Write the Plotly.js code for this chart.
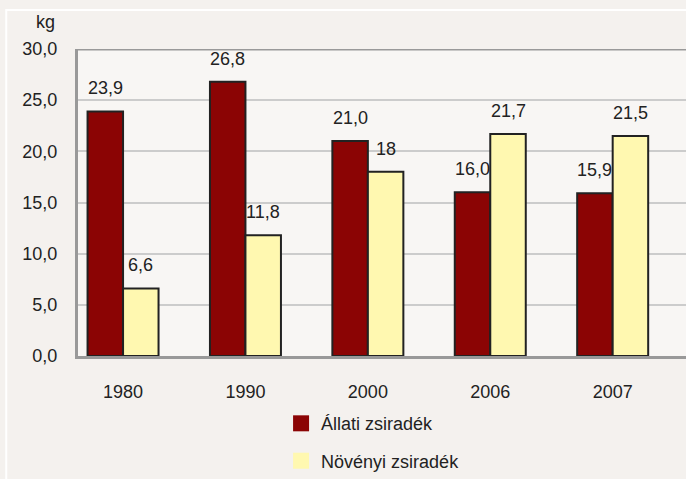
<!DOCTYPE html>
<html>
<head>
<meta charset="utf-8">
<script src="https://cdn.plot.ly/plotly-3.0.1.min.js"></script>
<style>html,body{margin:0;padding:0;background:#f4f1ee;}#chart{width:686px;height:479px;}</style>
</head>
<body>
<div id="chart"></div>
<script>
var categories = ['1980', '1990', '2000', '2006', '2007'];
var allatiValues = [23.9, 26.8, 21.0, 16.0, 15.9];
var novenyiValues = [6.6, 11.8, 18, 21.7, 21.5];
var allatiLabels = ['23,9', '26,8', '21,0', '16,0', '15,9'];
var novenyiLabels = ['6,6', '11,8', '18', '21,7', '21,5'];
var seriesNames = ['Állati zsiradék', 'Növényi zsiradék'];
var yTicks = [0, 5, 10, 15, 20, 25, 30];
var yTickText = ['0,0', '5,0', '10,0', '15,0', '20,0', '25,0', '30,0'];

var red = '#8b0404';
var yellow = '#fff8b0';
var font = '"Liberation Sans", Arial, sans-serif';
var fs = 18;

var traces = [
  {type: 'bar', x: categories, y: allatiValues, name: seriesNames[0], showlegend: false,
   marker: {color: red, line: {color: '#222', width: 2}}},
  {type: 'bar', x: categories, y: novenyiValues, name: seriesNames[1], showlegend: false,
   marker: {color: yellow, line: {color: '#222', width: 2}}},
  {type: 'scatter', mode: 'markers', x: [null], y: [null], name: seriesNames[0], legendgroup: 'a',
   marker: {symbol: 'square', size: 16, color: red}},
  {type: 'scatter', mode: 'markers', x: [null], y: [null], name: seriesNames[1], legendgroup: 'b',
   marker: {symbol: 'square', size: 16, color: yellow}}
];

var off = 0.145;
var annotations = [];
categories.forEach(function (c, i) {
  annotations.push({x: i - off, y: allatiValues[i], xref: 'x', yref: 'y', text: allatiLabels[i],
    showarrow: false, yanchor: 'middle', yshift: 23, font: {family: font, size: fs, color: '#222'}});
  annotations.push({x: i + off, y: novenyiValues[i], xref: 'x', yref: 'y', text: novenyiLabels[i],
    showarrow: false, yanchor: 'middle', yshift: 23, font: {family: font, size: fs, color: '#222'}});
});
annotations.push({x: -0.054, y: 1.088, xref: 'paper', yref: 'paper', xanchor: 'center', yanchor: 'middle',
  text: 'kg', showarrow: false, font: {family: font, size: fs, color: '#222'}});

var layout = {
  width: 686, height: 479,
  margin: {l: 78, r: 0, t: 49, b: 123, pad: 0, autoexpand: false},
  paper_bgcolor: '#f4f1ee',
  plot_bgcolor: '#f8f6f4',
  font: {family: font, size: fs, color: '#222'},
  barmode: 'group', bargap: 0.42, bargroupgap: 0,
  xaxis: {type: 'category', range: [-0.368, 4.599], showgrid: false, zeroline: false,
    showline: true, linecolor: '#999', linewidth: 3, ticks: '', ticklabelstandoff: 17,
    tickfont: {family: font, size: fs, color: '#222'}, fixedrange: true},
  yaxis: {range: [0, 30], tickvals: yTicks, ticktext: yTickText, showgrid: true,
    gridcolor: '#cccccc', gridwidth: 2, zeroline: false, showline: true, linecolor: '#999',
    linewidth: 3, ticks: '', ticklabelstandoff: 14, tickfont: {family: font, size: fs, color: '#222'}},
  showlegend: true,
  legend: {x: 0.334, xanchor: 'left', y: -0.16, yanchor: 'top', orientation: 'v',
    traceorder: 'grouped', tracegroupgap: 11, bgcolor: 'rgba(0,0,0,0)',
    font: {family: font, size: fs, color: '#222'}},
  annotations: annotations,
  shapes: [
    {type: 'line', xref: 'paper', yref: 'y', x0: 0, x1: 1, y0: 30, y1: 30,
     line: {color: '#999', width: 3}},
    {type: 'rect', xref: 'paper', yref: 'paper', x0: -0.118, x1: 1.2, y0: -0.5, y1: 1.127,
     line: {color: '#ffffff', width: 2}, layer: 'below'}
  ]
};

Plotly.newPlot('chart', traces, layout, {displayModeBar: false, staticPlot: true});
</script>
</body>
</html>
